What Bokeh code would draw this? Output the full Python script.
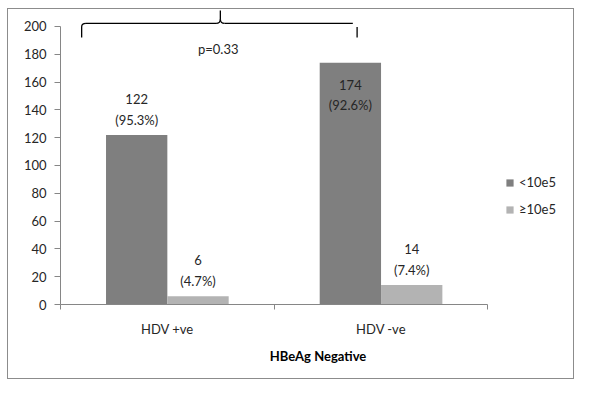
from bokeh.plotting import figure
from bokeh.layouts import row, column
from bokeh.models import (ColumnDataSource, Range1d, FixedTicker, Legend, LegendItem, Spacer)
from bokeh.core.properties import value
from bokeh.embed import file_html
from bokeh.resources import INLINE

categories = ["HDV +ve", "HDV -ve"]
series = ["<10e5", "\u226510e5"]
low_counts = [122, 174]
high_counts = [6, 14]
low_pct = ["95.3%", "92.6%"]
high_pct = ["4.7%", "7.4%"]
y_ticks = [0, 20, 40, 60, 80, 100, 120, 140, 160, 180, 200]
p_text = "p=0.33"
x_title = "HBeAg Negative"

DARK = "#7f7f7f"
LIGHT = "#b3b3b3"
AXIS = "#868686"
TXT = "#262626"
FONT = "Lato"

n = len(categories)
centers = [i + 0.5 for i in range(n)]
bw = 0.287
dodge = bw / 2

p = figure(width=567, height=371, output_backend="svg", toolbar_location=None,
           x_range=Range1d(0, 2.41), y_range=Range1d(0, 211.5),
           min_border_left=52, min_border_right=0, min_border_top=1, min_border_bottom=76)
p.styles = {"border": "1px solid #8c8c8c"}
p.outline_line_color = None
p.grid.visible = False
p.background_fill_color = "white"
p.border_fill_color = "white"

src_low = ColumnDataSource(dict(x=[c - dodge for c in centers], top=low_counts))
src_high = ColumnDataSource(dict(x=[c + dodge for c in centers], top=high_counts))
r_low = p.vbar(x="x", top="top", width=bw, source=src_low, fill_color=DARK, line_color=None)
r_high = p.vbar(x="x", top="top", width=bw, source=src_high, fill_color=LIGHT, line_color=None)

# data labels
lab_x, lab_y, lab_t, lab_base, lab_off = [], [], [], [], []
for xs, vals, pcts in ((src_low.data["x"], low_counts, low_pct), (src_high.data["x"], high_counts, high_pct)):
    for x, v, pc in zip(xs, vals, pcts):
        lab_x.append(x)
        lab_y.append(v)
        lab_t.append(f"{v}\n({pc})")
        if v > 160:
            lab_base.append("top"); lab_off.append(14)
        else:
            lab_base.append("bottom"); lab_off.append(-7)
lsrc = ColumnDataSource(dict(x=lab_x, y=lab_y, t=lab_t, b=lab_base, o=lab_off))
p.text(x="x", y="y", text="t", source=lsrc, text_align="center", text_baseline="b",
       y_offset="o", text_font=value(FONT), text_font_size="13px", text_color=TXT,
       text_line_height=1.3)

# brace with p-value
by = 202.2
x0, x1, xm = 0.099, 1.388, 0.748
dx = 0.02
p.line(x=[x0 + dx, xm - dx], y=[by, by], line_color="black", line_width=1.3)
p.line(x=[xm + dx, x1 - dx], y=[by, by], line_color="black", line_width=1.3)
p.line(x=[x0, x0], y=[192, by - 2.5], line_color="black", line_width=1.3)
p.line(x=[x1, x1], y=[192, by - 2.5], line_color="black", line_width=1.3)
p.quadratic(x0=[x0, x1], y0=[by - 2.5, by - 2.5], x1=[x0 + dx, x1 - dx], y1=[by, by],
            cx=[x0, x1], cy=[by], line_color="black", line_width=1.3)
p.quadratic(x0=[xm - dx, xm + dx], y0=[by, by], x1=[xm, xm], y1=[by + 3, by + 3],
            cx=[xm, xm], cy=[by, by], line_color="black", line_width=1.3)
p.line(x=[xm, xm], y=[by + 3, 212], line_color="black", line_width=1.3)
p.text(x=[xm - 0.01], y=[183.5], text=[p_text], text_align="center", text_baseline="middle",
       text_font=value(FONT), text_font_size="13px", text_color=TXT)

# axes
xa = p.xaxis[0]
xa.bounds = (0, n)
xa.ticker = FixedTicker(ticks=centers, minor_ticks=list(range(n + 1)))
xa.major_label_overrides = {c: cat for c, cat in zip(centers, categories)}
xa.major_tick_out = 0
xa.major_tick_in = 0
xa.minor_tick_out = 5
xa.minor_tick_in = 0
xa.minor_tick_line_color = AXIS
xa.axis_line_color = AXIS
xa.major_label_standoff = 11
xa.major_label_text_font = FONT
xa.major_label_text_font_size = "13px"
xa.major_label_text_color = TXT
xa.axis_label = x_title
xa.axis_label_text_font = FONT
xa.axis_label_text_font_style = "bold"
xa.axis_label_text_font_size = "13px"
xa.axis_label_text_color = "black"
xa.axis_label_standoff = 8

ya = p.yaxis[0]
ya.bounds = (0, 200)
ya.ticker = FixedTicker(ticks=y_ticks)
ya.major_tick_out = 6
ya.major_tick_in = 0
ya.minor_tick_out = 0
ya.minor_tick_in = 0
ya.major_tick_line_color = AXIS
ya.axis_line_color = AXIS
ya.major_label_standoff = 8
ya.major_label_text_font = FONT
ya.major_label_text_font_size = "13px"
ya.major_label_text_color = TXT

legend = Legend(items=[LegendItem(label=series[0], renderers=[r_low]),
                       LegendItem(label=series[1], renderers=[r_high])],
                location=(445, 87), orientation="vertical")
legend.glyph_width = 9
legend.glyph_height = 9
legend.label_height = 9
legend.spacing = 11
legend.padding = 0
legend.margin = 0
legend.label_standoff = 5
legend.border_line_color = None
legend.background_fill_alpha = 0
legend.label_text_font = FONT
legend.label_text_font_size = "13px"
legend.label_text_color = TXT
legend.label_text_baseline = "middle"
p.add_layout(legend, "center")

layout = row(Spacer(width=7), column(Spacer(height=8), p))

open("out.html", "w").write(file_html(layout, INLINE))
